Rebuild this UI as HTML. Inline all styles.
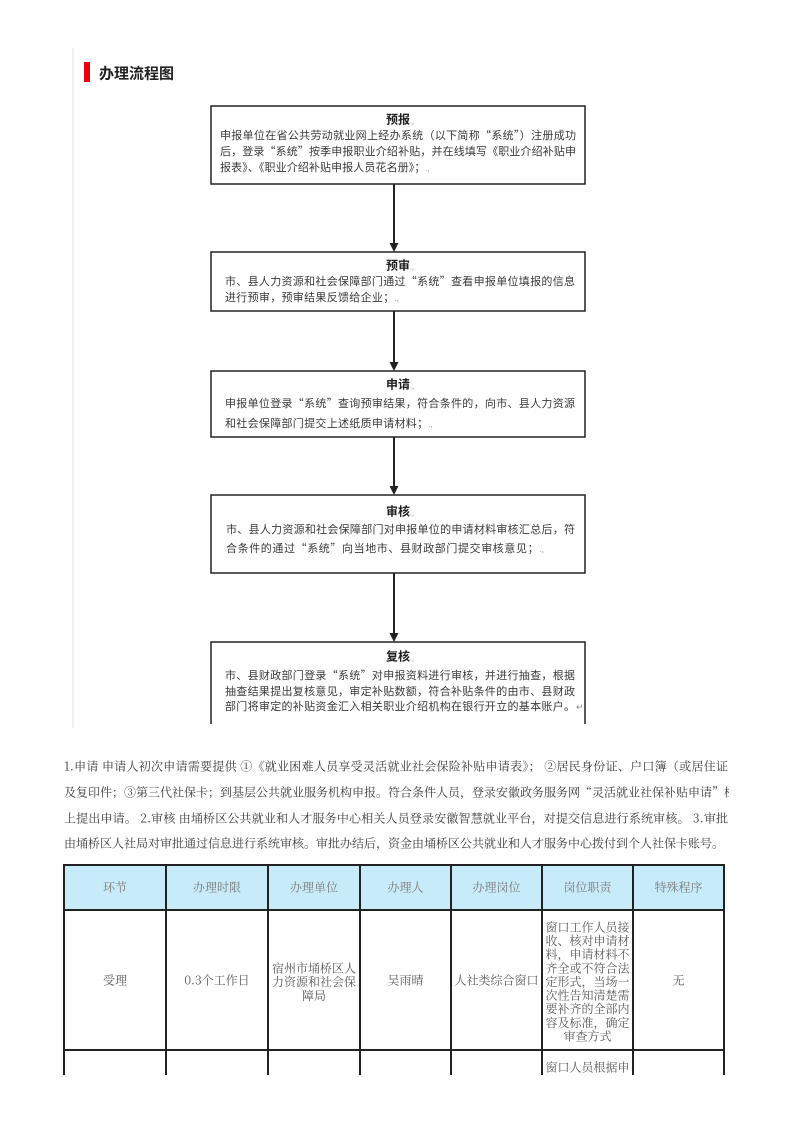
<!DOCTYPE html>
<html>
<head>
<meta charset="utf-8">
<style>
  html,body{margin:0;padding:0;background:#fff;}
  svg{display:block;}
  .fs{font-family:"Noto Sans CJK SC","WenQuanYi Zen Hei",sans-serif;}
  .sf{font-family:"Noto Serif CJK SC","Noto Sans CJK SC",serif;}
</style>
</head>
<body>
<svg width="793" height="1122" viewBox="0 0 793 1122" xmlns="http://www.w3.org/2000/svg">
  <defs>
    <clipPath id="fc"><rect x="0" y="0" width="793" height="724"/></clipPath>
    <clipPath id="pc"><rect x="0" y="745" width="729" height="115"/></clipPath>
    <clipPath id="tc"><rect x="0" y="850" width="793" height="225"/></clipPath>
  </defs>

  <!-- left faint line -->
  <line x1="73" y1="48" x2="73" y2="728" stroke="#e2e2e2" stroke-width="1"/>

  <!-- header -->
  <rect x="84" y="62" width="6" height="20" fill="#e60012"/>
  <text class="fs" x="99" y="78.5" font-size="15" font-weight="bold" fill="#222" textLength="75" lengthAdjust="spacingAndGlyphs">办理流程图</text>

  <g clip-path="url(#fc)">
    <!-- boxes -->
    <rect x="211" y="106" width="374" height="78" fill="none" stroke="#222" stroke-width="1.5"/>
    <rect x="211" y="252" width="374" height="59" fill="none" stroke="#222" stroke-width="1.5"/>
    <rect x="211" y="371" width="374" height="66" fill="none" stroke="#222" stroke-width="1.5"/>
    <rect x="211" y="495" width="374" height="78" fill="none" stroke="#222" stroke-width="1.5"/>
    <rect x="211" y="642" width="374" height="200" fill="none" stroke="#222" stroke-width="1.5"/>
  </g>

  <!-- arrows -->
  <g stroke="#222" stroke-width="2">
    <line x1="394" y1="184" x2="394" y2="244"/>
    <line x1="394" y1="311" x2="394" y2="363"/>
    <line x1="394" y1="437" x2="394" y2="487"/>
    <line x1="394" y1="573" x2="394" y2="634"/>
  </g>
  <g fill="#222">
    <polygon points="389.5,243 398.5,243 394,252"/>
    <polygon points="389.5,362 398.5,362 394,371"/>
    <polygon points="389.5,486 398.5,486 394,495"/>
    <polygon points="389.5,633 398.5,633 394,642"/>
  </g>

  <!-- box 1 text -->
  <g class="fs" font-size="11" fill="#3a3a3a">
    <text x="386" y="123.5" font-size="12" font-weight="bold" fill="#222">预报<tspan font-size="7" fill="#999" font-weight="normal">.,</tspan></text>
    <text x="220" y="139" textLength="356" lengthAdjust="spacing">申报单位在省公共劳动就业网上经办系统（以下简称“系统”）注册成功</text>
    <text x="220" y="155" textLength="356" lengthAdjust="spacing">后，登录“系统”按季申报职业介绍补贴，并在线填写《职业介绍补贴申</text>
    <text x="220" y="171" letter-spacing="0.1">报表》、《职业介绍补贴申报人员花名册》；<tspan font-size="7" fill="#999">.,</tspan></text>
  </g>

  <!-- box 2 text -->
  <g class="fs" font-size="11" fill="#3a3a3a">
    <text x="386" y="269.5" font-size="12" font-weight="bold" fill="#222">预审<tspan font-size="7" fill="#999" font-weight="normal">.,</tspan></text>
    <text x="225" y="285" textLength="350" lengthAdjust="spacing">市、县人力资源和社会保障部门通过“系统”查看申报单位填报的信息</text>
    <text x="225" y="301" letter-spacing="0.3">进行预审，预审结果反馈给企业；<tspan font-size="7" fill="#999">.,</tspan></text>
  </g>

  <!-- box 3 text -->
  <g class="fs" font-size="11" fill="#3a3a3a">
    <text x="386" y="388.5" font-size="12" font-weight="bold" fill="#222">申请<tspan font-size="7" fill="#999" font-weight="normal">.,</tspan></text>
    <text x="225" y="407" textLength="350" lengthAdjust="spacing">申报单位登录“系统”查询预审结果，符合条件的，向市、县人力资源</text>
    <text x="225" y="427" letter-spacing="0.3">和社会保障部门提交上述纸质申请材料；<tspan font-size="7" fill="#999">.,</tspan></text>
  </g>

  <!-- box 4 text -->
  <g class="fs" font-size="11" fill="#3a3a3a">
    <text x="386" y="515.5" font-size="12" font-weight="bold" fill="#222">审核<tspan font-size="7" fill="#999" font-weight="normal">.,</tspan></text>
    <text x="226" y="533" textLength="349" lengthAdjust="spacing">市、县人力资源和社会保障部门对申报单位的申请材料审核汇总后，符</text>
    <text x="226" y="552" letter-spacing="0.6">合条件的通过“系统”向当地市、县财政部门提交审核意见；<tspan font-size="7" fill="#999">.,</tspan></text>
  </g>

  <!-- box 5 text -->
  <g class="fs" font-size="11" fill="#3a3a3a" clip-path="url(#fc)">
    <text x="386" y="660.5" font-size="12" font-weight="bold" fill="#222">复核<tspan font-size="7" fill="#999" font-weight="normal">.,</tspan></text>
    <text x="225" y="679" textLength="350" lengthAdjust="spacing">市、县财政部门登录“系统”对申报资料进行审核，并进行抽查，根据</text>
    <text x="225" y="695" textLength="350" lengthAdjust="spacing">抽查结果提出复核意见，审定补贴数额，符合补贴条件的由市、县财政</text>
    <text x="225" y="710" textLength="350" lengthAdjust="spacing">部门将审定的补贴资金汇入相关职业介绍机构在银行开立的基本账户。</text>
    <text x="576" y="710" font-size="9" fill="#888">↵</text>
  </g>

  <!-- paragraph -->
  <g class="sf" font-size="12" fill="#3c3c3c" clip-path="url(#pc)">
    <text x="64" y="770.5" textLength="664" lengthAdjust="spacing">1.申请 申请人初次申请需要提供 ①《就业困难人员享受灵活就业社会保险补贴申请表》； ②居民身份证、户口簿（或居住证</text>
    <text x="64" y="796.5" textLength="672" lengthAdjust="spacing">及复印件；③第三代社保卡；到基层公共就业服务机构申报。符合条件人员，登录安徽政务服务网“灵活就业社保补贴申请”栏</text>
    <text x="64" y="822.5" textLength="664" lengthAdjust="spacing">上提出申请。 2.审核 由埇桥区公共就业和人才服务中心相关人员登录安徽智慧就业平台，对提交信息进行系统审核。 3.审批</text>
    <text x="64" y="847.5" textLength="660" lengthAdjust="spacing">由埇桥区人社局对审批通过信息进行系统审核。审批办结后，资金由埇桥区公共就业和人才服务中心拨付到个人社保卡账号。</text>
  </g>

  <!-- table -->
  <g clip-path="url(#tc)">
    <rect x="64" y="865" width="660" height="45" fill="#c8ebfa"/>
    <g stroke="#222" stroke-width="2">
      <line x1="63" y1="865" x2="725" y2="865"/>
      <line x1="63" y1="910" x2="725" y2="910"/>
      <line x1="63" y1="1050" x2="725" y2="1050"/>
      <line x1="64" y1="864" x2="64" y2="1080"/>
      <line x1="166" y1="864" x2="166" y2="1080"/>
      <line x1="268" y1="864" x2="268" y2="1080"/>
      <line x1="360" y1="864" x2="360" y2="1080"/>
      <line x1="451" y1="864" x2="451" y2="1080"/>
      <line x1="542" y1="864" x2="542" y2="1080"/>
      <line x1="633" y1="864" x2="633" y2="1080"/>
      <line x1="724" y1="864" x2="724" y2="1080"/>
    </g>
    <g class="sf" font-size="12" fill="#7a7a7a" text-anchor="middle">
      <text x="115" y="891.5">环节</text>
      <text x="217" y="891.5">办理时限</text>
      <text x="314" y="891.5">办理单位</text>
      <text x="405.5" y="891.5">办理人</text>
      <text x="496.5" y="891.5">办理岗位</text>
      <text x="587.5" y="891.5">岗位职责</text>
      <text x="678.5" y="891.5">特殊程序</text>
    </g>
    <g class="sf" font-size="12" fill="#5a5a5a" text-anchor="middle">
      <text x="115" y="984.5">受理</text>
      <text x="217" y="984.5">0.3个工作日</text>
      <text x="314" y="972.5">宿州市埇桥区人</text>
      <text x="314" y="986.2">力资源和社会保</text>
      <text x="314" y="999.9">障局</text>
      <text x="405.5" y="984.5">吴雨晴</text>
      <text x="496.5" y="984.5">人社类综合窗口</text>
      <text x="587.5" y="931.3">窗口工作人员接</text>
      <text x="587.5" y="945">收、核对申请材</text>
      <text x="587.5" y="958.6">料，申请材料不</text>
      <text x="587.5" y="972.3">齐全或不符合法</text>
      <text x="587.5" y="985.9">定形式，当场一</text>
      <text x="587.5" y="999.6">次性告知清楚需</text>
      <text x="587.5" y="1013.2">要补齐的全部内</text>
      <text x="587.5" y="1026.9">容及标准，确定</text>
      <text x="587.5" y="1040.5">审查方式</text>
      <text x="678.5" y="984.5">无</text>
      <text x="587.5" y="1071.5">窗口人员根据申</text>
    </g>
  </g>
</svg>
</body>
</html>
